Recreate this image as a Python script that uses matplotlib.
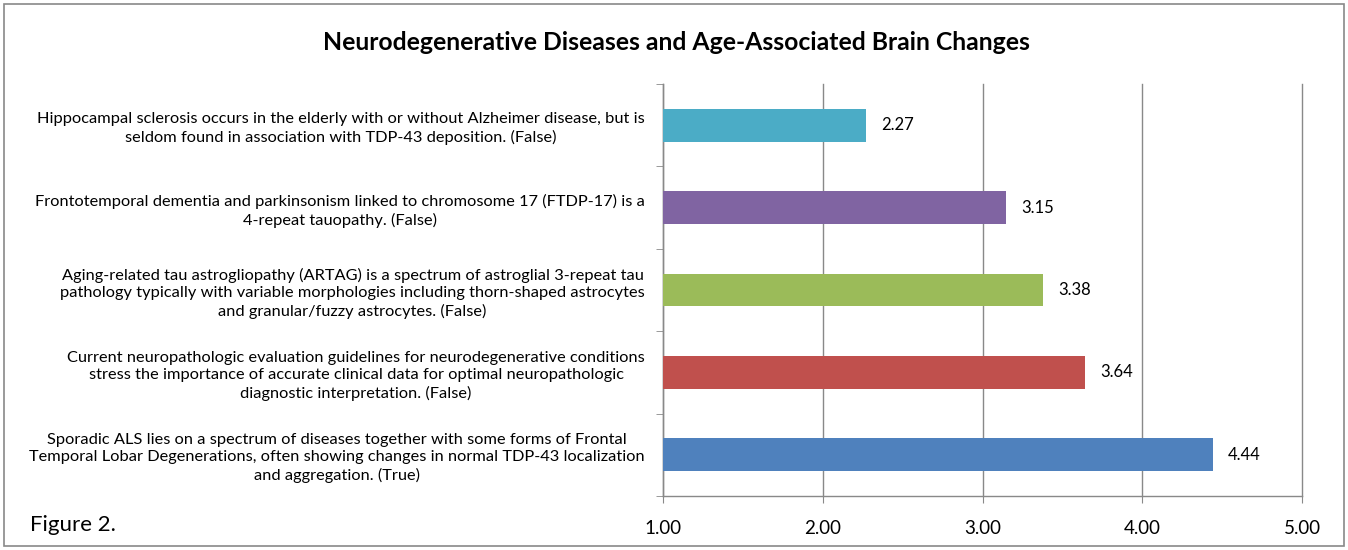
import matplotlib
matplotlib.use("Agg")
import matplotlib.pyplot as plt
from matplotlib.patches import Rectangle

plt.rcParams['font.family'] = ['Lato', 'DejaVu Sans']

categories = [
    "Sporadic ALS lies on a spectrum of diseases together with some forms of Frontal\nTemporal Lobar Degenerations, often showing changes in normal TDP-43 localization\nand aggregation. (True)",
    "Current neuropathologic evaluation guidelines for neurodegenerative conditions\nstress the importance of accurate clinical data for optimal neuropathologic\ndiagnostic interpretation. (False)",
    "Aging-related tau astrogliopathy (ARTAG) is a spectrum of astroglial 3-repeat tau\npathology typically with variable morphologies including thorn-shaped astrocytes\nand granular/fuzzy astrocytes. (False)",
    "Frontotemporal dementia and parkinsonism linked to chromosome 17 (FTDP-17) is a\n4-repeat tauopathy. (False)",
    "Hippocampal sclerosis occurs in the elderly with or without Alzheimer disease, but is\nseldom found in association with TDP-43 deposition. (False)",
]
values = [4.44, 3.64, 3.38, 3.15, 2.27]
colors = ["#4F81BD", "#C0504D", "#9BBB59", "#8064A2", "#4BACC6"]
xticks = [1.0, 2.0, 3.0, 4.0, 5.0]
title = "Neurodegenerative Diseases and Age-Associated Brain Changes"

fig = plt.figure(figsize=(13.48, 5.5), dpi=100)
ax = fig.add_axes([663/1348, 1-496/550, (1302-663)/1348, (496-84)/550])

ypos = list(range(len(values)))
ax.barh(ypos, values, height=0.4, color=colors, zorder=3)
ax.set_xlim(1, 5)
ax.set_ylim(-0.5, len(values) - 0.5)

for y, v in zip(ypos, values):
    ax.annotate(f"{v:.2f}", (v, y), xytext=(11, 0), textcoords='offset points',
                va='center', ha='left', fontsize=12, color='black')

ax.set_xticks(xticks)
ax.set_xticklabels([f"{t:.2f}" for t in xticks], fontsize=13.5)
ax.tick_params(axis='x', length=5, color='#898989', pad=12)
ax.set_yticks(ypos)
ax.set_yticklabels(categories, fontsize=11.8, multialignment='center', linespacing=1.3)
ax.tick_params(axis='y', which='major', length=0, pad=13)
ax.set_yticks([i - 0.5 for i in range(len(values) + 1)], minor=True)
ax.tick_params(axis='y', which='minor', length=5, color='#898989')

ax.grid(axis='x', color='#898989', linewidth=1, zorder=0)
for gl in ax.get_xgridlines():
    gl.set_clip_on(False)
for s in ['top', 'right']:
    ax.spines[s].set_visible(False)
for s in ['left', 'bottom']:
    ax.spines[s].set_color('#898989')
    ax.spines[s].set_linewidth(1)

fig.text(676/1348, 1 - 43/550, title, ha='center', va='center',
         fontsize=17.8, fontweight='bold')
fig.text(30/1348, 1 - 525/550, "Figure 2.", ha='left', va='center', fontsize=16)

fig.patches.append(Rectangle((4/1348, 4/550), 1 - 8/1348, 1 - 8/550, transform=fig.transFigure,
                             fill=False, edgecolor='#898989', linewidth=1.2))

fig.savefig("out.png", dpi=100)
